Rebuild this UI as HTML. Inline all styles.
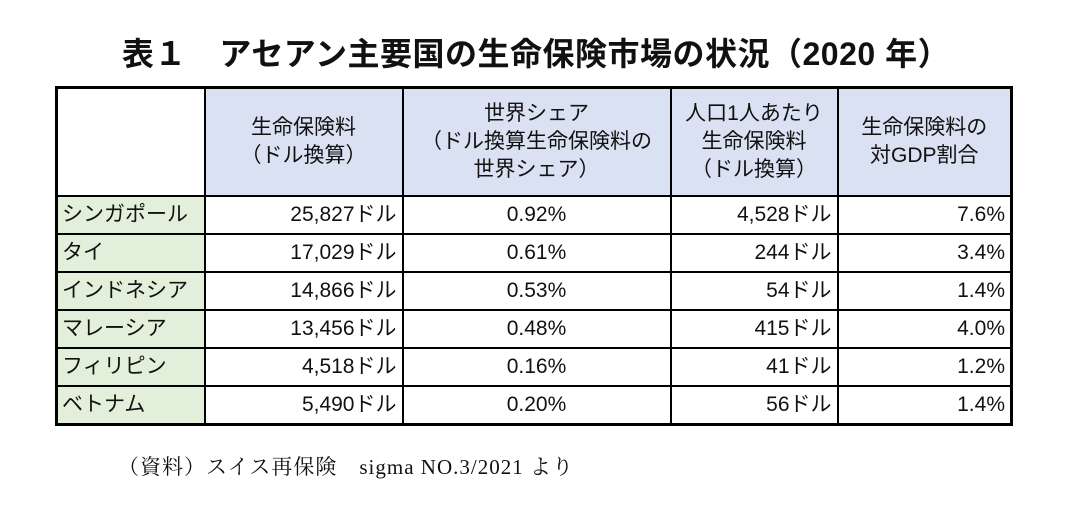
<!DOCTYPE html>
<html><head><meta charset="utf-8"><style>
body{margin:0;width:1072px;height:507px;background:#fff;position:relative;overflow:hidden;font-family:"Liberation Sans","Noto Sans CJK JP",sans-serif;color:#111}
#title{position:absolute;left:0;width:1072px;top:34px;text-align:center;font-size:32px;font-weight:bold;line-height:40px;letter-spacing:0.5px}
table{position:absolute;left:55px;top:86px;border-collapse:collapse;table-layout:fixed;border:3px solid #000}
td{border:2px solid #000;font-size:21px;padding:0 5px;height:36px;line-height:24px;white-space:nowrap}
tr.h td{height:106px;background:#d9e1f2;text-align:center;line-height:28px}
tr.h td.blank{background:#fff}
td.n{background:#e2efda;text-align:left;padding-left:4px}
td.r{text-align:right}
td.c{text-align:center}
#src{position:absolute;left:118px;top:451px;font-family:"Liberation Serif","Noto Serif CJK SC",serif;font-size:21px;letter-spacing:1px}
</style></head><body>
<div id="title">表１　アセアン主要国の生命保険市場の状況（2020 年）</div>
<table>
<colgroup><col style="width:148px"><col style="width:198px"><col style="width:268px"><col style="width:167px"><col style="width:174px"></colgroup>
<tr class="h">
<td class="blank"></td>
<td>生命保険料<br>（ドル換算）</td>
<td>世界シェア<br>（ドル換算生命保険料の<br>世界シェア）</td>
<td>人口1人あたり<br>生命保険料<br>（ドル換算）</td>
<td>生命保険料の<br>対GDP割合</td>
</tr>
<tr><td class="n">シンガポール</td><td class="r">25,827ドル</td><td class="c">0.92%</td><td class="r">4,528ドル</td><td class="r">7.6%</td></tr>
<tr><td class="n">タイ</td><td class="r">17,029ドル</td><td class="c">0.61%</td><td class="r">244ドル</td><td class="r">3.4%</td></tr>
<tr><td class="n">インドネシア</td><td class="r">14,866ドル</td><td class="c">0.53%</td><td class="r">54ドル</td><td class="r">1.4%</td></tr>
<tr><td class="n">マレーシア</td><td class="r">13,456ドル</td><td class="c">0.48%</td><td class="r">415ドル</td><td class="r">4.0%</td></tr>
<tr><td class="n">フィリピン</td><td class="r">4,518ドル</td><td class="c">0.16%</td><td class="r">41ドル</td><td class="r">1.2%</td></tr>
<tr><td class="n">ベトナム</td><td class="r">5,490ドル</td><td class="c">0.20%</td><td class="r">56ドル</td><td class="r">1.4%</td></tr>
</table>
<div id="src">（資料）スイス再保険　sigma NO.3/2021 より</div>
</body></html>
